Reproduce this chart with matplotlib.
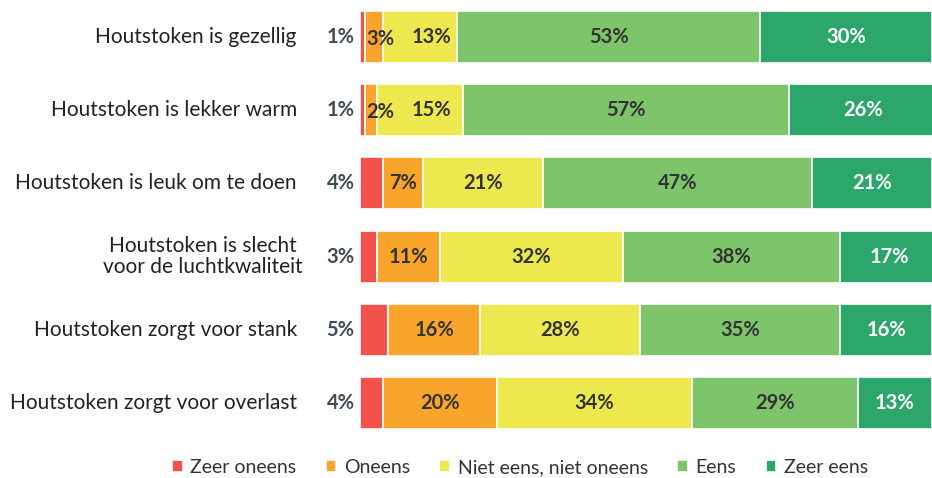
import matplotlib
matplotlib.use('Agg')
import matplotlib.pyplot as plt
import numpy as np

# data
categories = ['Houtstoken is gezellig',
              'Houtstoken is lekker warm',
              'Houtstoken is leuk om te doen',
              'Houtstoken is slecht\nvoor de luchtkwaliteit',
              'Houtstoken zorgt voor stank',
              'Houtstoken zorgt voor overlast']
series_names = ['Zeer oneens', 'Oneens', 'Niet eens, niet oneens', 'Eens', 'Zeer eens']
zeer_oneens = [1, 1, 4, 3, 5, 4]
oneens = [3, 2, 7, 11, 16, 20]
neutraal = [13, 15, 21, 32, 28, 34]
eens = [53, 57, 47, 38, 35, 29]
zeer_eens = [30, 26, 21, 17, 16, 13]

colors = ['#F1524B', '#F9A52C', '#EEE84F', '#7DC46A', '#2DA66B']
text_colors = ['#414B55', '#333333', '#333333', '#333333', 'white']

plt.rcParams['font.family'] = ['Lato', 'DejaVu Sans']

fig = plt.figure(figsize=(9.32, 4.78), dpi=100)
ax = fig.add_axes([0.386, 0.08, 0.614, 0.92])

data = [zeer_oneens, oneens, neutraal, eens, zeer_eens]
y = np.arange(len(categories))
left = np.zeros(len(categories))
fs = 14.5
for i, vals in enumerate(data):
    vals = np.array(vals, dtype=float)
    ax.barh(y, vals, left=left, height=0.71, color=colors[i],
            edgecolor='white', linewidth=1.2, label=series_names[i])
    for j, v in enumerate(vals):
        if i == 0:
            # rode waarden links naast de balk
            ax.text(-0.9, y[j], f'{int(v)}%', ha='right', va='center',
                    fontsize=fs, fontweight='bold', color=text_colors[i])
        elif i == 1 and v < 5:
            ax.text(left[j] + 0.2, y[j] + 0.03, f'{int(v)}%', ha='left', va='center',
                    fontsize=fs, fontweight='bold', color=text_colors[i])
        elif i == 2 and data[1][j] < 5:
            ax.text(left[j] + v / 2 + 2, y[j], f'{int(v)}%', ha='center', va='center',
                    fontsize=fs, fontweight='bold', color=text_colors[i])
        else:
            ax.text(left[j] + v / 2, y[j], f'{int(v)}%', ha='center', va='center',
                    fontsize=fs, fontweight='bold', color=text_colors[i])
    left += vals

for j, c in enumerate(categories):
    if '\n' in c:
        ax.text(-27.5, y[j], c, ha='center', va='center', fontsize=15,
                color='#222222', multialignment='center', linespacing=1.1)
    else:
        ax.text(-11, y[j], c, ha='right', va='center', fontsize=15, color='#222222')

ax.set_xlim(0, 100)
ax.set_ylim(len(categories) - 0.5, -0.5)
ax.axis('off')

fig.legend(*ax.get_legend_handles_labels(), loc='center', ncol=5,
           bbox_to_anchor=(0.558, 0.022), frameon=False, fontsize=14,
           handlelength=0.55, handleheight=0.6, handletextpad=0.4,
           columnspacing=1.5, labelcolor='#333333')

plt.savefig('out.png', dpi=100)
